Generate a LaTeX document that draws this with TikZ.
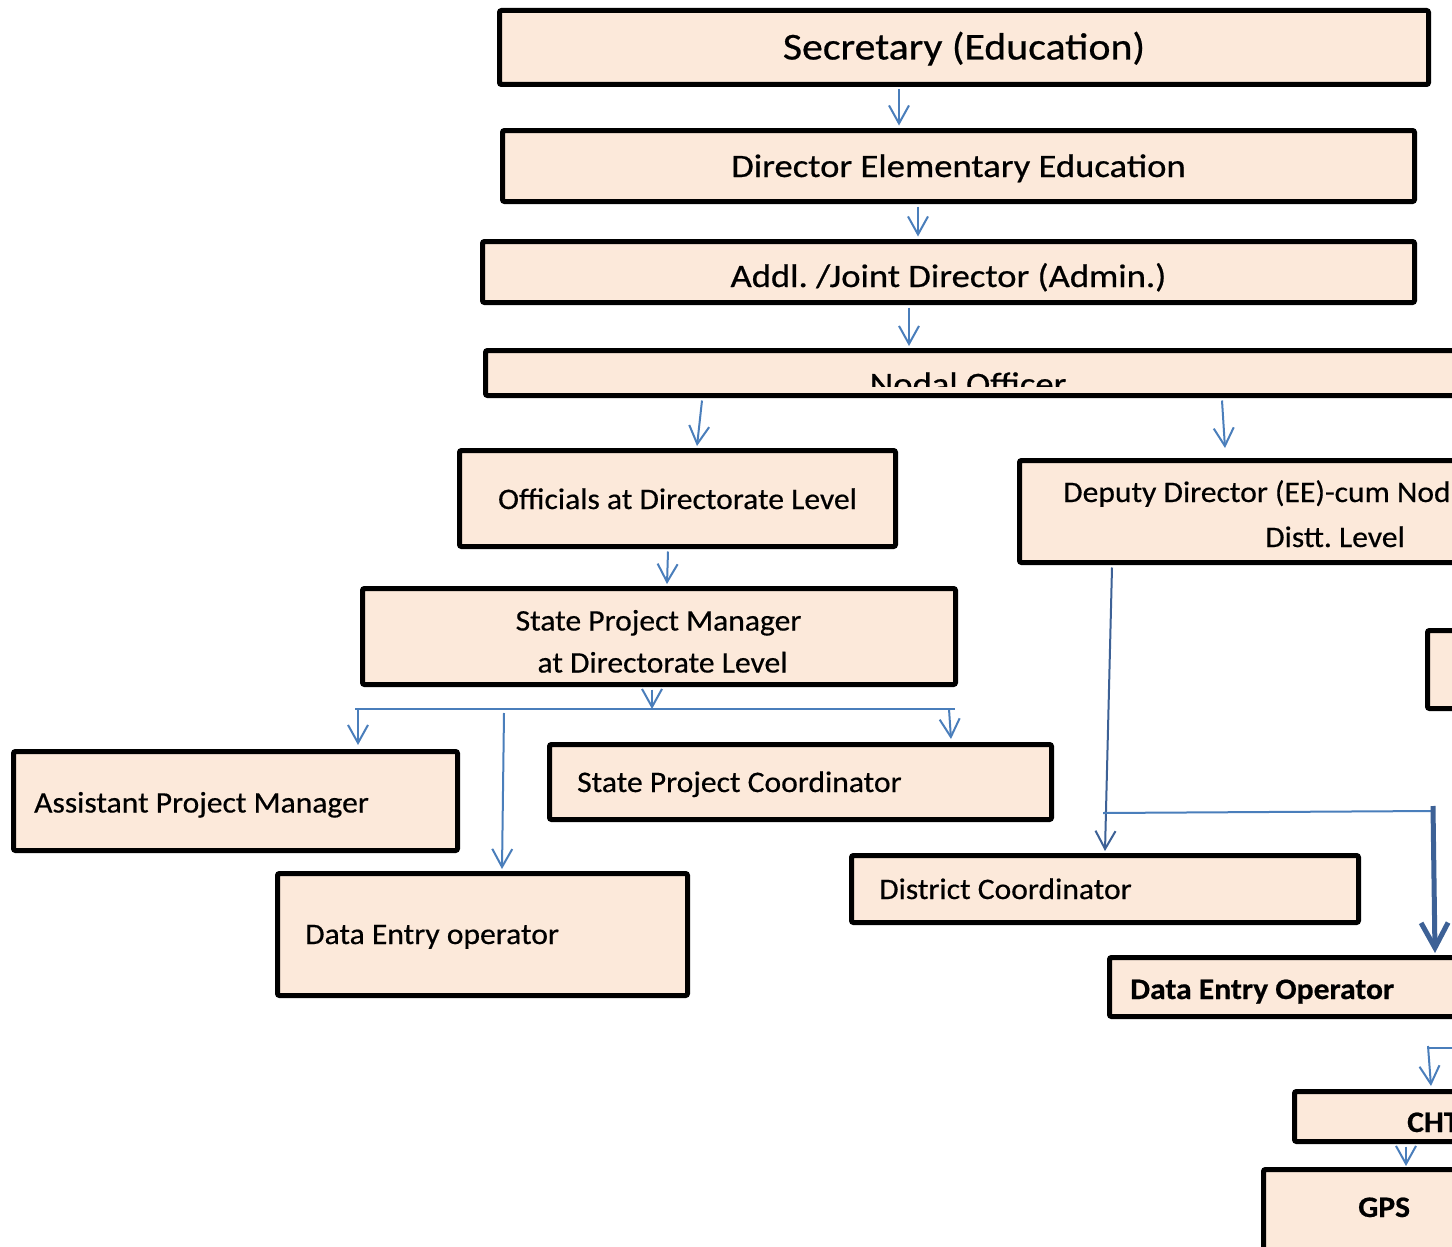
\documentclass[tikz,border=0pt]{standalone}
\usepackage{fontspec}
\setmainfont{Carlito}
\newfontfamily\fbig[FakeStretch=1.1,FakeBold=0.6]{Carlito}
\newfontfamily\fmid[FakeStretch=1.12,FakeBold=0.6]{Carlito}
\newfontfamily\fsm[FakeStretch=1.06,FakeBold=0.5]{Carlito}
\usetikzlibrary{arrows.meta,calc}
\definecolor{boxfill}{HTML}{FCE9DA}
\definecolor{connblue}{HTML}{4A7EBB}
\definecolor{conndark}{HTML}{3D6196}
\tikzset{
  box/.style={draw=black, line width=5pt, fill=boxfill, rounded corners=2pt, inner sep=0pt},
  tbig/.style={inner sep=0pt, font=\fbig\frenchspacing\fontsize{38}{44}\selectfont},
  tmid/.style={inner sep=0pt, font=\fmid\frenchspacing\fontsize{32.7}{38}\selectfont},
  tsm/.style={inner sep=0pt, font=\fsm\frenchspacing\fontsize{29.8}{36}\selectfont},
  tsmb/.style={inner sep=0pt, font=\fsm\frenchspacing\bfseries\fontsize{29.8}{36}\selectfont},
  conn/.style={draw=connblue, line width=2pt, -{Straight Barb[length=18pt,width=20pt,line width=2pt]}},
  conndk/.style={draw=conndark, line width=2pt, -{Straight Barb[length=18pt,width=20pt,line width=2pt]}},
  connthick/.style={draw=conndark, line width=5pt, -{Straight Barb[length=25pt,width=27pt,line width=5pt]}},
  busline/.style={draw=connblue, line width=2pt},
}
\begin{document}
\begin{tikzpicture}[x=1pt, y=-1pt]
\useasboundingbox (0,0) rectangle (1452,1247);
\clip (0,0) rectangle (1452,1247);
\fill[white] (0,0) rectangle (1452,1247);

% boxes
\node[box, minimum width=929pt, minimum height=74pt] (sec) at (964,47.5) {};
\node[box, minimum width=912pt, minimum height=71pt] (dir) at (958.5,166) {};
\node[box, minimum width=932pt, minimum height=61pt] (addl) at (948.5,272) {};
\node[box, minimum width=982pt, minimum height=45pt] (nodal) at (976.5,373) {};
\node[box, minimum width=436pt, minimum height=96pt] (off) at (677.5,498.5) {};
\node[box, minimum width=458pt, minimum height=102pt] (dep) at (1248.5,511.5) {};
\node[box, minimum width=593pt, minimum height=96pt] (spm) at (659,636.5) {};
\node[box, minimum width=50pt, minimum height=78pt] (rbox) at (1452.5,669.5) {};
\node[box, minimum width=444pt, minimum height=99pt] (apm) at (235.5,801) {};
\node[box, minimum width=502pt, minimum height=75pt] (spc) at (800.5,782) {};
\node[box, minimum width=410pt, minimum height=122pt] (deo) at (482.5,934.5) {};
\node[box, minimum width=507pt, minimum height=67pt] (dc) at (1105,889) {};
\node[box, minimum width=368pt, minimum height=59pt] (deob) at (1293.5,987) {};
\node[box, minimum width=183pt, minimum height=50pt] (cht) at (1386,1116.5) {};
\node[box, minimum width=214pt, minimum height=98pt] (gps) at (1370.5,1218.5) {};

% texts
\node[tbig, anchor=base] (sect) at (964,59.5) {Secretary (Education)};
\node[tmid, anchor=base] (dirt) at (958.5,177) {Director Elementary Education};
\node[tmid, anchor=base] (addlt) at (948.5,287) {Addl. /Joint Director (Admin.)};
\begin{scope}
  \clip (483,350) rectangle (1452,386);
  \node[tmid, anchor=base] (nodalt) at (968,395) {Nodal Officer};
\end{scope}
\node[tsm, anchor=base] (offt) at (677.5,509) {Officials at Directorate Level};
\node[tsm, anchor=base west] (dept1) at (1063,502) {Deputy Director (EE)-cum Nod};
\node[tsm, anchor=base west] (dept2) at (1265,547) {Distt. Level};
\node[tsm, anchor=base] (spmt1) at (658.5,630.5) {State Project Manager};
\node[tsm, anchor=base] (spmt2) at (662.5,672.5) {at Directorate Level};
\node[tsm, anchor=base west] (apmt) at (34,812.5) {Assistant Project Manager};
\node[tsm, anchor=base west] (spct) at (577,792) {State Project Coordinator};
\node[tsm, anchor=base west] (deot) at (305,944) {Data Entry operator};
\node[tsm, anchor=base west] (dct) at (879,899) {District Coordinator};
\node[tsmb, anchor=base west] (deobt) at (1130,999) {Data Entry Operator};
\node[tsmb, anchor=base west] (chtt) at (1407,1132) {CHT};
\node[tsmb, anchor=base west] (gpst) at (1358,1217) {GPS};

% connectors
\draw[conn] ([xshift=-65pt,yshift=-2.5pt]sec.south) -- ([xshift=-59.5pt,yshift=2.5pt]dir.north);
\draw[conn] ([xshift=-40.5pt,yshift=-2.5pt]dir.south) -- ([xshift=-30.5pt,yshift=2.5pt]addl.north);
\draw[conn] ([xshift=-39.5pt,yshift=-2.5pt]addl.south) -- ([xshift=-67.5pt,yshift=2pt]nodal.north);
\draw[conn] ([xshift=-274.5pt,yshift=-2.5pt]nodal.south) -- ([xshift=19.5pt,yshift=2pt]off.north);
\draw[conn] ([xshift=245.5pt,yshift=-2.5pt]nodal.south) -- ([xshift=-23.5pt,yshift=10pt]dep.north);
\draw[conn] ([xshift=-9.5pt,yshift=-2.5pt]off.south) -- ([xshift=8pt,yshift=2pt]spm.north);

\coordinate (busL) at (355,709);
\coordinate (busR) at (955,709);
\coordinate (busM) at (652,709);
\draw[busline] (busL) -- (busR);
\draw[conn] ([xshift=-7pt,yshift=-2.5pt]spm.south) -- (busM);
\draw[conn] (busL -| 358,0) -- ([xshift=122.5pt,yshift=4pt]apm.north);
\coordinate (busD) at (504,713);
\draw[conn] (busD) -- ([xshift=19.5pt,yshift=2pt]deo.north);
\draw[conn] (busR -| 949,0) -- ([xshift=150.5pt,yshift=3pt]spc.north);

\draw[conndk] ([xshift=-136.5pt,yshift=-2.5pt]dep.south) -- ([yshift=2pt]dc.north);
\coordinate (hL) at (1103,813);
\coordinate (hR) at (1433,811);
\draw[busline] (hL) -- (hR);
\coordinate (thickS) at (1433,806);
\draw[connthick] (thickS) -- ([xshift=141.5pt,yshift=2pt]deob.north);

\coordinate (chtS) at (1428,1046);
\draw[busline] (1428,1048) -- (1460,1048);
\draw[conn] (chtS) -- ([xshift=45pt,yshift=3pt]cht.north);
\draw[conn] ([xshift=20pt,yshift=-2.5pt]cht.south) -- ([xshift=35.5pt,yshift=1pt]gps.north);
\end{tikzpicture}
\end{document}
